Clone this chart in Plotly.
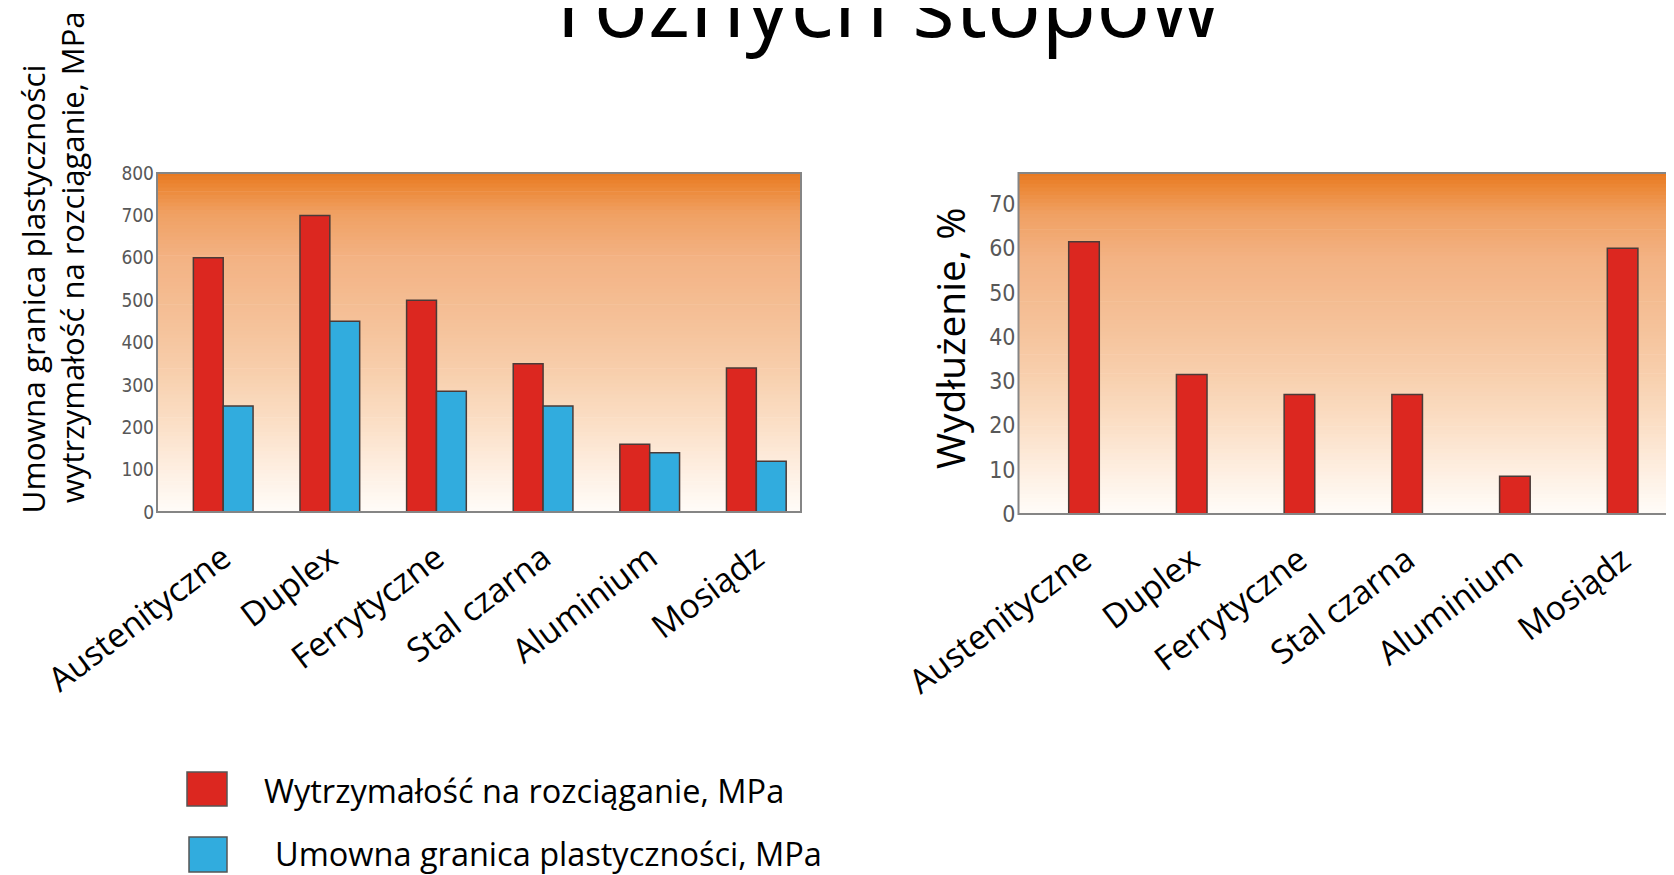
import plotly.graph_objects as go

# ---------------- data ----------------
categories = ["Austenityczne", "Duplex", "Ferrytyczne", "Stal czarna", "Aluminium", "Mosiądz"]
tensile_strength = [600, 700, 500, 350, 160, 340]      # MPa (red)
yield_strength = [250, 450, 285, 250, 140, 120]        # MPa (blue)
elongation = [61.5, 31.5, 27, 27, 8.5, 60]             # % (red)
left_ticks = [0, 100, 200, 300, 400, 500, 600, 700, 800]
right_ticks = [0, 10, 20, 30, 40, 50, 60, 70]
series_names = ["Wytrzymałość na rozciąganie, MPa", "Umowna granica plastyczności, MPa"]
left_title = ["Umowna granica plastyczności", "wytrzymałość na rozciąganie, MPa"]
right_title = "Wydłużenie, %"
title_text = "różnych stopów"

# ---------------- style ----------------
OFF = 8                     # default page body margin
W, H = 1674 - OFF, 875 - OFF
RED = "#DC2720"
BLUE = "#31ACDE"
OUTLINE = "#4a3b38"
MAIN_FONT = "Open Sans"
NARROW = "Liberation Sans Narrow, Arial Narrow, DejaVu Sans Condensed, Liberation Sans"


def px(sx):
    """screen x (px) -> paper fraction"""
    return (sx - OFF) / W


def py(sy):
    """screen y (px) -> paper fraction"""
    return 1 - (sy - OFF) / H


fig = go.Figure()

fig.add_trace(go.Bar(x=categories, y=tensile_strength, name=series_names[0],
                     width=0.28, offset=-0.28,
                     marker=dict(color=RED, line=dict(color=OUTLINE, width=1.5)),
                     xaxis="x", yaxis="y"))
fig.add_trace(go.Bar(x=categories, y=yield_strength, name=series_names[1],
                     width=0.28, offset=0.0,
                     marker=dict(color=BLUE, line=dict(color=OUTLINE, width=1.5)),
                     xaxis="x", yaxis="y"))
fig.add_trace(go.Bar(x=categories, y=elongation, name=right_title,
                     width=0.284, offset=-0.142,
                     marker=dict(color=RED, line=dict(color=OUTLINE, width=1.5)),
                     xaxis="x2", yaxis="y2"))

# gradient background bands (top orange -> bottom near white)
stops = [
    (0.00, (232, 120, 31)),
    (0.05, (236, 138, 58)),
    (0.12, (240, 160, 98)),
    (0.25, (243, 178, 131)),
    (0.45, (245, 194, 154)),
    (0.60, (248, 208, 174)),
    (0.75, (251, 224, 200)),
    (0.88, (254, 239, 226)),
    (1.00, (255, 252, 248)),
]


def grad_color(t):
    for (t0, c0), (t1, c1) in zip(stops[:-1], stops[1:]):
        if t0 <= t <= t1:
            f = (t - t0) / (t1 - t0) if t1 > t0 else 0
            c = [round(a + (b - a) * f) for a, b in zip(c0, c1)]
            return "rgb(%d,%d,%d)" % tuple(c)
    return "rgb(255,252,248)"


shapes = []
N = 90
for xr, yr in (("x domain", "y domain"), ("x2 domain", "y2 domain")):
    for i in range(N):
        t = (i + 0.5) / N  # from top
        shapes.append(dict(type="rect", xref=xr, yref=yr, x0=0, x1=1,
                           y0=1 - (i + 1) / N, y1=1 - i / N + 0.002,
                           fillcolor=grad_color(t), line=dict(width=0), layer="below"))
    shapes.append(dict(type="rect", xref=xr, yref=yr, x0=0, x1=1, y0=0, y1=1,
                       line=dict(color="#858585", width=2), layer="above"))

# legend squares
shapes.append(dict(type="rect", xref="paper", yref="paper",
                   x0=px(187), x1=px(227), y0=py(806), y1=py(772),
                   fillcolor=RED, line=dict(color="#555555", width=1.5)))
shapes.append(dict(type="rect", xref="paper", yref="paper",
                   x0=px(189), x1=px(227), y0=py(872), y1=py(837),
                   fillcolor=BLUE, line=dict(color="#555555", width=1.5)))

annotations = [
    dict(text=title_text, xref="paper", yref="paper", x=px(888), y=py(65),
         xanchor="center", yanchor="bottom", showarrow=False,
         font=dict(family=MAIN_FONT, size=90, color="black")),
    dict(text=left_title[0], xref="paper", yref="paper", x=px(31.5), y=py(515.5),
         xanchor="center", yanchor="bottom", textangle=-90, showarrow=False,
         font=dict(family=MAIN_FONT, size=31.5, color="black")),
    dict(text=left_title[1], xref="paper", yref="paper", x=px(72), y=py(505),
         xanchor="center", yanchor="bottom", textangle=-90, showarrow=False,
         font=dict(family=MAIN_FONT, size=31, color="black")),
    dict(text=right_title, xref="paper", yref="paper", x=px(949), y=py(471.5),
         xanchor="center", yanchor="bottom", textangle=-90, showarrow=False,
         font=dict(family=MAIN_FONT, size=39, color="black")),
    dict(text=series_names[0], xref="paper", yref="paper", x=px(262), y=py(790),
         xanchor="left", yanchor="middle", showarrow=False,
         font=dict(family=MAIN_FONT, size=32.5, color="black")),
    dict(text=series_names[1], xref="paper", yref="paper", x=px(273), y=py(853),
         xanchor="left", yanchor="middle", showarrow=False,
         font=dict(family=MAIN_FONT, size=32.5, color="black")),
]

xcommon = dict(type="category", tickangle=-37, showgrid=False, zeroline=False,
               showline=False, ticks="", ticklabelstandoff=19, automargin=False,
               tickfont=dict(family=MAIN_FONT, size=33.5, color="black"))

fig.update_layout(
    width=W, height=H, autosize=False,
    margin=dict(l=0, r=0, t=0, b=0, pad=0, autoexpand=False),
    paper_bgcolor="white", plot_bgcolor="rgba(0,0,0,0)",
    showlegend=False, barmode="overlay",
    xaxis=dict(domain=[px(157), px(801)], range=[-0.621, 5.419], anchor="y", **xcommon),
    yaxis=dict(domain=[py(512), py(173)], range=[0, 800], tickvals=left_ticks,
               showgrid=False, zeroline=False, showline=False, ticks="",
               ticklabelstandoff=2, anchor="x", automargin=False,
               tickfont=dict(family=NARROW, size=19, color="#585858")),
    xaxis2=dict(domain=[px(1018.5), 1], range=[-0.608, 5.477], anchor="y2", **xcommon),
    yaxis2=dict(domain=[py(514), py(173)], range=[0, 77], tickvals=right_ticks,
                showgrid=False, zeroline=False, showline=False, ticks="",
                ticklabelstandoff=2, anchor="x2", automargin=False,
                tickfont=dict(family=NARROW, size=23, color="#585858")),
    shapes=shapes,
    annotations=annotations,
)

fig.write_html("out.html")
